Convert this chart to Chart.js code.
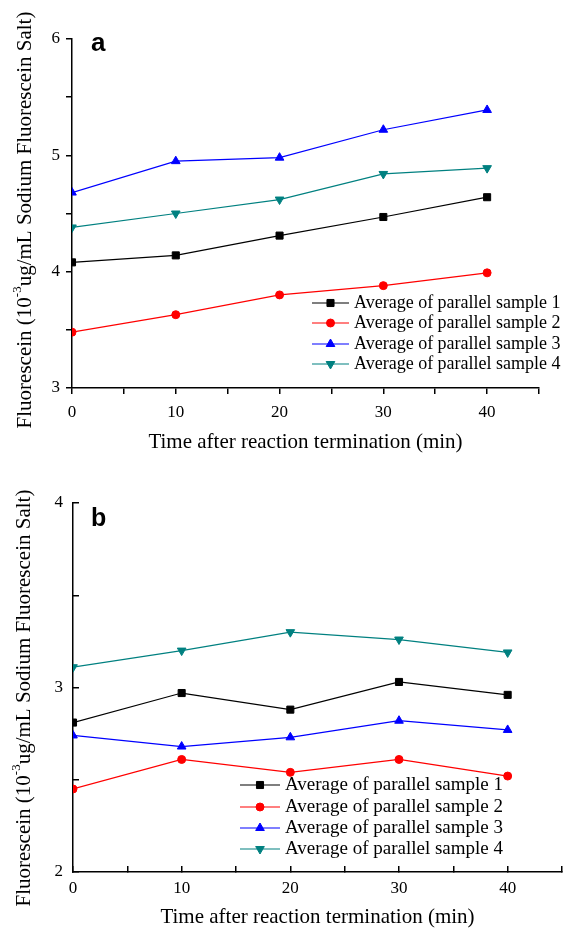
<!DOCTYPE html>
<html lang="en">
<head>
<meta charset="UTF-8">
<title>Fluorescein after reaction termination</title>
<script src="https://cdn.jsdelivr.net/npm/chart.js"></script>
<style>
    body { margin: 0; background: #fff; }
    .painel { position: absolute; left: 0; width: 574px; }
    #painelA { top: 0; height: 460px; }
    #painelB { top: 460px; height: 470px; }
</style>
</head>
<body>
<div class="painel" id="painelA"><canvas id="chartA" width="574" height="460"></canvas></div>
<div class="painel" id="painelB"><canvas id="chartB" width="574" height="470"></canvas></div>

<script>
    // valores
    const times = [0, 10, 20, 30, 40];
    const sampleNames = [
        'Average of parallel sample 1',
        'Average of parallel sample 2',
        'Average of parallel sample 3',
        'Average of parallel sample 4'
    ];

    const aSample1 = [4.08, 4.14, 4.31, 4.47, 4.64];
    const aSample2 = [3.48, 3.63, 3.80, 3.88, 3.99];
    const aSample3 = [4.68, 4.95, 4.98, 5.22, 5.39];
    const aSample4 = [4.38, 4.50, 4.62, 4.84, 4.89];

    const bSample1 = [2.81, 2.97, 2.88, 3.03, 2.96];
    const bSample2 = [2.45, 2.61, 2.54, 2.61, 2.52];
    const bSample3 = [2.74, 2.68, 2.73, 2.82, 2.77];
    const bSample4 = [3.11, 3.20, 3.30, 3.26, 3.19];

    const xTickLabels = [0, 10, 20, 30, 40];
    const yTickLabelsA = [3, 4, 5, 6];
    const yTickLabelsB = [2, 3, 4];

    const xTitle = 'Time after reaction termination (min)';
    const yTitleParts = ['Fluorescein (10', '-3', 'ug/mL Sodium Fluorescein Salt)'];

    const colors = ['#000000', '#ff0000', '#0000ff', '#008080'];
    const markers = ['rect', 'circle', 'triangle', 'triangle'];
    const markerRotation = [0, 0, 0, 180];
    const markerRadius = [5, 4, 5, 5];

    const serif = '"Liberation Serif", "Times New Roman", serif';

    function montarDatasets(series) {
        return series.map((valores, i) => ({
            label: sampleNames[i],
            data: times.map((t, k) => ({ x: t, y: valores[k] })),
            borderColor: colors[i],
            backgroundColor: colors[i],
            borderWidth: 1.2,
            pointStyle: markers[i],
            pointRotation: markerRotation[i],
            pointRadius: markerRadius[i],
            pointBorderWidth: 1,
            tension: 0
        }));
    }

    // legenda dentro do grafico + titulo do eixo y com sobrescrito + letra do painel
    const anotacoes = {
        id: 'anotacoes',
        afterDraw(chart, args, opts) {
            const ctx = chart.ctx;
            ctx.save();

            // legenda
            ctx.font = opts.legendFont;
            ctx.textBaseline = 'middle';
            ctx.textAlign = 'left';
            chart.data.datasets.forEach((ds, i) => {
                const y = opts.rows[i];
                ctx.strokeStyle = ds.borderColor;
                ctx.lineWidth = ds.borderWidth;
                ctx.beginPath();
                ctx.moveTo(opts.lineX1, y);
                ctx.lineTo(opts.lineX2, y);
                ctx.stroke();
                ctx.fillStyle = ds.backgroundColor;
                ctx.lineWidth = 1;
                Chart.helpers.drawPoint(ctx, {
                    pointStyle: ds.pointStyle,
                    radius: ds.pointRadius,
                    rotation: ds.pointRotation,
                    borderWidth: 1
                }, (opts.lineX1 + opts.lineX2) / 2, y);
                ctx.fillStyle = '#000';
                ctx.fillText(ds.label, opts.textX, y);
            });

            // titulo do eixo y
            const fonteGrande = '21px ' + serif;
            const fontePequena = '13px ' + serif;
            ctx.font = fonteGrande;
            const w0 = ctx.measureText(yTitleParts[0]).width;
            const w2 = ctx.measureText(yTitleParts[2]).width;
            ctx.font = fontePequena;
            const w1 = ctx.measureText(yTitleParts[1]).width;
            const total = w0 + w1 + w2;
            ctx.translate(opts.yTitleX, opts.yTitleY);
            ctx.rotate(-Math.PI / 2);
            ctx.fillStyle = '#000';
            ctx.textBaseline = 'middle';
            let px = -total / 2;
            ctx.font = fonteGrande;
            ctx.fillText(yTitleParts[0], px, 0);
            px += w0;
            ctx.font = fontePequena;
            ctx.fillText(yTitleParts[1], px, -7);
            px += w1;
            ctx.font = fonteGrande;
            ctx.fillText(yTitleParts[2], px, 0);
            ctx.setTransform(1, 0, 0, 1, 0, 0);

            // letra do painel
            ctx.font = 'bold ' + opts.letterSize + 'px "Liberation Sans", Arial, sans-serif';
            ctx.textBaseline = 'alphabetic';
            ctx.fillText(opts.letter, opts.letterX, opts.letterY);
            ctx.restore();
        }
    };

    function criarGrafico(canvasId, series, cfg) {
        const ctx = document.getElementById(canvasId).getContext('2d');
        return new Chart(ctx, {
            type: 'line',
            data: { datasets: montarDatasets(series) },
            plugins: [anotacoes],
            options: {
                responsive: false,
                animation: false,
                layout: { padding: cfg.padding },
                plugins: {
                    legend: { display: false },
                    tooltip: { enabled: false },
                    anotacoes: cfg.anotacoes
                },
                scales: {
                    x: {
                        type: 'linear',
                        min: 0,
                        max: 45,
                        afterFit: (scale) => { scale.height = cfg.xHeight; },
                        border: { display: true, color: '#000', width: 1.5 },
                        grid: {
                            drawOnChartArea: false,
                            drawTicks: true,
                            tickLength: cfg.tickLength,
                            color: '#000',
                            lineWidth: 1.5
                        },
                        ticks: {
                            stepSize: 5,
                            autoSkip: false,
                            maxRotation: 0,
                            padding: cfg.xTickPadding,
                            color: '#000',
                            font: { family: serif, size: 17 },
                            callback: (v) => xTickLabels.includes(v) ? String(v) : ''
                        },
                        title: {
                            display: true,
                            text: xTitle,
                            color: '#000',
                            font: { family: serif, size: 21 },
                            padding: { top: 0, bottom: cfg.xTitlePad }
                        }
                    },
                    y: {
                        type: 'linear',
                        min: cfg.yMin,
                        max: cfg.yMax,
                        afterFit: (scale) => { scale.width = cfg.yWidth; },
                        border: { display: true, color: '#000', width: 1.5 },
                        grid: {
                            drawOnChartArea: false,
                            drawTicks: true,
                            tickLength: cfg.tickLength,
                            color: '#000',
                            lineWidth: 1.5
                        },
                        ticks: {
                            stepSize: 0.5,
                            autoSkip: false,
                            padding: cfg.yTickPadding,
                            color: '#000',
                            font: { family: serif, size: 17 },
                            callback: (v) => cfg.yLabels.includes(v) ? String(v) : ''
                        },
                        title: { display: false }
                    }
                }
            }
        });
    }

    criarGrafico('chartA', [aSample1, aSample2, aSample3, aSample4], {
        padding: { left: 0, top: 39, right: 35, bottom: 0 },
        xHeight: 72,
        yWidth: 72,
        yMin: 3,
        yMax: 6,
        yLabels: yTickLabelsA,
        tickLength: 6,
        xTickPadding: 8,
        yTickPadding: 6,
        xTitlePad: 5,
        anotacoes: {
            legendFont: '18px ' + serif,
            rows: [303, 323, 344, 364],
            lineX1: 312,
            lineX2: 349,
            textX: 354,
            yTitleX: 25,
            yTitleY: 220,
            letter: 'a',
            letterSize: 26,
            letterX: 91,
            letterY: 51
        }
    });

    criarGrafico('chartB', [bSample1, bSample2, bSample3, bSample4], {
        padding: { left: 0, top: 43, right: 6, bottom: 0 },
        xHeight: 58,
        yWidth: 73,
        yMin: 2,
        yMax: 4,
        yLabels: yTickLabelsB,
        tickLength: -6,
        xTickPadding: 12,
        yTickPadding: 16,
        xTitlePad: 0,
        anotacoes: {
            legendFont: '19px ' + serif,
            rows: [325, 347, 368, 389],
            lineX1: 240,
            lineX2: 280,
            textX: 285,
            yTitleX: 24,
            yTitleY: 238,
            letter: 'b',
            letterSize: 25,
            letterX: 91,
            letterY: 66
        }
    });
</script>
</body>
</html>
